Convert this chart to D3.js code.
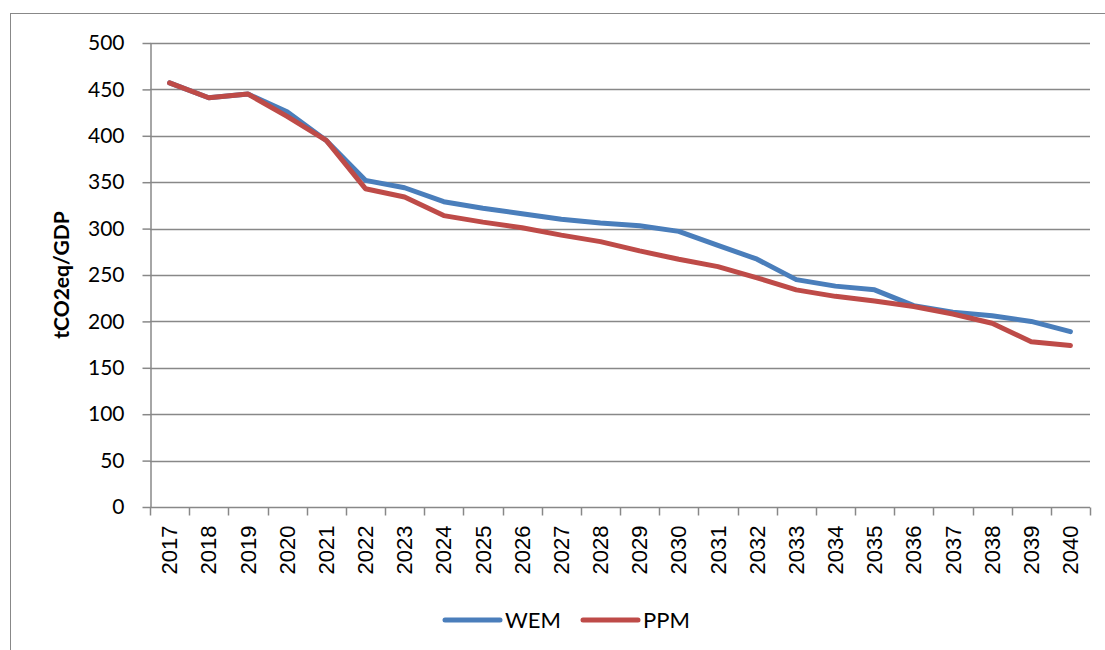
<!DOCTYPE html>
<html>
<head>
<meta charset="utf-8">
<script src="https://cdn.jsdelivr.net/npm/d3@7"></script>
<style>
  html, body { margin: 0; padding: 0; background: #fff; }
  svg { display: block; }
</style>
</head>
<body>
<svg id="chart" width="1105" height="650"></svg>
<script>
// Emission intensity per year, two scenarios
const years = ["2017","2018","2019","2020","2021","2022","2023","2024","2025","2026","2027","2028",
               "2029","2030","2031","2032","2033","2034","2035","2036","2037","2038","2039","2040"];
const wem = [457,441,445,426,395,352,344,329,322,316,310,306,303,297,282,267,245,238,234,217,210,206,200,189];
const ppm = [457,441,445,421,395,343,334,314,307,301,293,286,276,267,259,247,234,227,222,216,208,198,178,174];
const yTicks = [0,50,100,150,200,250,300,350,400,450,500];
const seriesNames = ["WEM","PPM"];
const seriesColors = ["#4A7EBB","#BE4B48"];

const svg = d3.select("#chart");
const plot = { left: 150, right: 1090, top: 43, bottom: 507 };
const gridColor = "#888888";

// chart frame
svg.append("rect")
  .attr("x", 10.5).attr("y", 13.5)
  .attr("width", 1110).attr("height", 660)
  .attr("fill", "none").attr("stroke", gridColor).attr("stroke-width", 1);

const x = d3.scaleBand().domain(years).range([plot.left, plot.right]);
const y = d3.scaleLinear().domain([0, 500]).range([plot.bottom, plot.top]);

// horizontal gridlines
svg.append("g").selectAll("line")
  .data(yTicks.filter(d => d > 0))
  .join("line")
  .attr("x1", plot.left).attr("x2", plot.right)
  .attr("y1", d => Math.round(y(d)) + 0.5).attr("y2", d => Math.round(y(d)) + 0.5)
  .attr("stroke", gridColor).attr("stroke-width", 1.5);

// y axis
const yAxis = svg.append("g")
  .attr("transform", `translate(${plot.left + 0.5},0)`)
  .call(d3.axisLeft(y).tickValues(yTicks).tickSize(8).tickPadding(18).tickSizeOuter(0));
yAxis.select(".domain").attr("stroke", gridColor).attr("stroke-width", 1.5);
yAxis.selectAll(".tick line").attr("stroke", gridColor).attr("stroke-width", 1.5);
yAxis.selectAll(".tick text")
  .attr("fill", "#000").attr("font-family", "Lato, 'Open Sans', sans-serif").attr("font-size", 21);

// x axis with tick marks between categories
const xAxisG = svg.append("g").attr("transform", `translate(0,${Math.round(plot.bottom) + 0.5})`);
xAxisG.append("line")
  .attr("x1", plot.left).attr("x2", plot.right)
  .attr("stroke", gridColor).attr("stroke-width", 1.5);
const boundaries = years.map(d => x(d)).concat([x(years[years.length - 1]) + x.bandwidth()]);
xAxisG.selectAll("line.tk")
  .data(boundaries)
  .join("line").attr("class", "tk")
  .attr("x1", d => Math.round(d) + 0.5).attr("x2", d => Math.round(d) + 0.5)
  .attr("y1", 0).attr("y2", 8)
  .attr("stroke", gridColor).attr("stroke-width", 1.5);
xAxisG.selectAll("text")
  .data(years)
  .join("text")
  .attr("transform", d => `translate(${x(d) + x.bandwidth() / 2},18) rotate(-90)`)
  .attr("text-anchor", "end")
  .attr("dy", "0.35em")
  .attr("font-family", "'Liberation Sans', Arial, sans-serif")
  .attr("font-size", 22)
  .attr("fill", "#000")
  .text(d => d);

// y axis title
svg.append("text")
  .attr("transform", "translate(62,275) rotate(-90)")
  .attr("text-anchor", "middle")
  .attr("dy", "0.35em")
  .attr("font-family", "Lato, 'Open Sans', sans-serif")
  .attr("font-weight", "bold")
  .attr("font-size", 21)
  .attr("fill", "#000")
  .text("tCO2eq/GDP");

// series lines
const line = d3.line()
  .x((d, i) => x(years[i]) + x.bandwidth() / 2)
  .y(d => y(d));
[wem, ppm].forEach((vals, k) => {
  svg.append("path")
    .datum(vals)
    .attr("fill", "none")
    .attr("stroke", seriesColors[k])
    .attr("stroke-width", 5)
    .attr("stroke-linejoin", "round")
    .attr("stroke-linecap", "round")
    .attr("d", line);
});

// legend
const legendX = [445, 583];
const legend = svg.append("g");
seriesNames.forEach((name, k) => {
  legend.append("line")
    .attr("x1", legendX[k]).attr("x2", legendX[k] + 55)
    .attr("y1", 620).attr("y2", 620)
    .attr("stroke", seriesColors[k]).attr("stroke-width", 5)
    .attr("stroke-linecap", "round");
  legend.append("text")
    .attr("x", legendX[k] + 60).attr("y", 620)
    .attr("dy", "0.35em")
    .attr("font-family", "Lato, 'Open Sans', sans-serif")
    .attr("font-size", 22)
    .attr("fill", "#000")
    .text(name);
});
</script>
</body>
</html>
